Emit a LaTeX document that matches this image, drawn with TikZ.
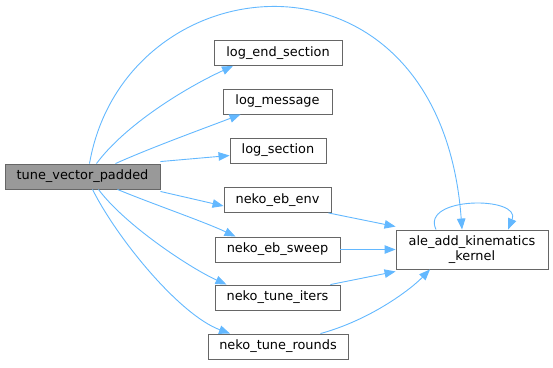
\documentclass[tikz,border=0pt]{standalone}
\usepackage{fontspec}
\setmainfont{DejaVu Sans}
\usetikzlibrary{arrows.meta,positioning,calc}
\definecolor{CallBlue}{HTML}{63B8FF}
\definecolor{BoxGray}{HTML}{666666}
\definecolor{RootFill}{HTML}{999999}

\begin{document}
\begin{tikzpicture}[x=1pt, y=-1pt,
  fn/.style={draw=BoxGray, line width=0.9pt, fill=white, minimum height=25pt,
    inner sep=0pt, font=\fontsize{12.9}{15}\selectfont},
  call/.style={CallBlue, line width=0.9pt, -{Triangle[length=11pt,width=8.5pt]}}]
\useasboundingbox (0,0) rectangle (553,367);

% Caller
\node[fn, fill=RootFill, minimum width=155pt] (tune) at (82.5,176.5) {tune\_vector\_padded};

% Callees
\node[fn, minimum width=128pt] (logend) at (278,53) {log\_end\_section};
\node[fn, minimum width=109pt] (logmsg) at (277.5,101.5) {log\_message};
\node[fn, minimum width=96pt] (logsec) at (278,150.5) {log\_section};
\node[fn, minimum width=107pt] (ebenv) at (277.5,200) {neko\_eb\_env};
\node[fn, minimum width=125pt] (ebsweep) at (277.5,249.5) {neko\_eb\_sweep};
\node[fn, minimum width=125pt] (tuneiters) at (277.5,297.5) {neko\_tune\_iters};
\node[fn, minimum width=140pt] (tunerounds) at (278,346.5) {neko\_tune\_rounds};
\node[fn, minimum width=152pt, minimum height=39pt, align=center] (kernel) at (472,249.5)
  {ale\_add\_kinematics\\\_kernel};

% Calls from tune_vector_padded
\draw[call] ([xshift=7pt]tune.north) .. controls (125,-40) and (440,-70) .. ([xshift=-10pt]kernel.north);
\draw[call] ([xshift=14pt]tune.north) .. controls (125,125) and (185,88) .. ([xshift=-45pt]logend.south);
\draw[call] ([xshift=33pt]tune.north) .. controls (150,148) and (205,128) .. ([xshift=-37pt]logmsg.south);
\draw[call] ([yshift=2pt]tune.north east) -- ([yshift=-5pt]logsec.west);
\draw[call] ([yshift=-2pt]tune.south east) -- ([yshift=-6pt]ebenv.west);
\draw[call] ([xshift=35pt]tune.south) .. controls (150,203) and (205,222) .. ([xshift=-42pt]ebsweep.north);
\draw[call] ([xshift=16pt]tune.south) .. controls (125,225) and (190,268) .. ([xshift=-51pt]tuneiters.north);
\draw[call] ([xshift=10pt]tune.south) .. controls (118,240) and (180,315) .. ([xshift=-48pt]tunerounds.north);

% Calls into ale_add_kinematics_kernel
\draw[call] ([xshift=-3pt]ebenv.south east) -- ([yshift=3pt]kernel.north west);
\draw[call] (ebsweep.east) -- (kernel.west);
\draw[call] ([xshift=-10pt]tuneiters.north east) -- ([yshift=-2pt]kernel.south west);
\draw[call] ([xshift=-28pt]tunerounds.north east) .. controls (370,320) and (410,290) .. ([xshift=-42pt]kernel.south);

% Recursive call
\draw[call] ([xshift=-36pt]kernel.north) .. controls (420,196) and (522,196) .. ([xshift=36pt]kernel.north);
\end{tikzpicture}
\end{document}
